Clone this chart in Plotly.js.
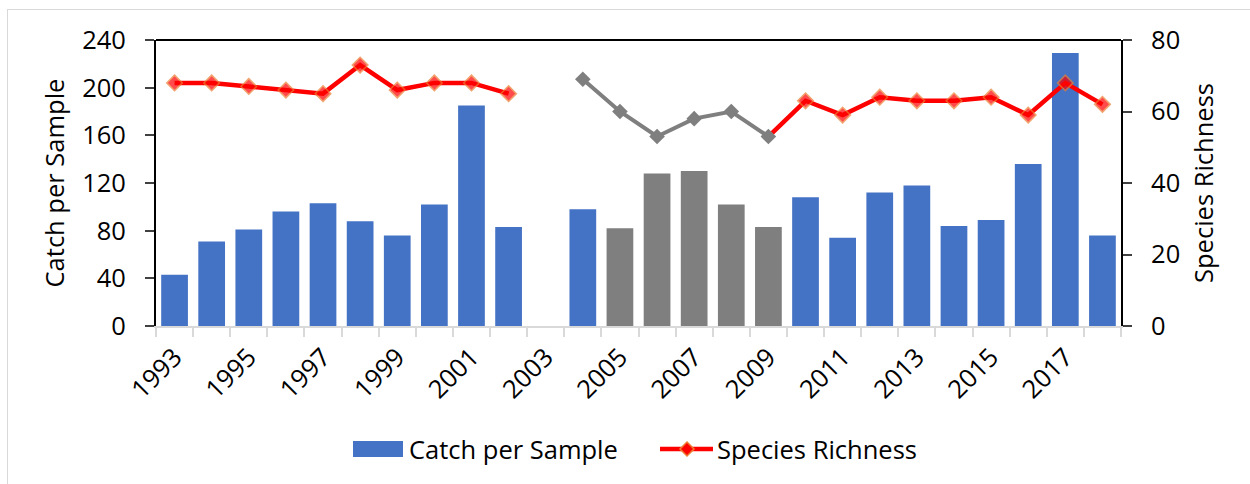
<!DOCTYPE html>
<html>
<head>
<meta charset="utf-8">
<script src="https://cdn.plot.ly/plotly-3.0.1.min.js"></script>
<style>
  body { margin: 0; background: #fff; }
  #frame { position: absolute; left: 7px; top: 9px; width: 1260px; height: 500px; border: 1.5px solid #D9D9D9; }
  #chart { position: absolute; left: 0; top: 0; width: 1250px; height: 484px; }
</style>
</head>
<body>
<div id="frame"></div>
<div id="chart"></div>
<script>
const years = [1993, 1994, 1995, 1996, 1997, 1998, 1999, 2000, 2001, 2002, 2003, 2004, 2005,
               2006, 2007, 2008, 2009, 2010, 2011, 2012, 2013, 2014, 2015, 2016, 2017, 2018];
const catchPerSample = [43, 71, 81, 96, 103, 88, 76, 102, 185, 83, null, 98, 82,
                        128, 130, 102, 83, 108, 74, 112, 118, 84, 89, 136, 229, 76];
const speciesRichness = [68, 68, 67, 66, 65, 73, 66, 68, 68, 65, null, 69, 60,
                         53, 58, 60, 53, 63, 59, 64, 63, 63, 64, 59, 68, 62];
// years drawn in gray (different sampling period)
const grayBarYears = [2005, 2006, 2007, 2008, 2009];
const grayLineYears = [2004, 2005, 2006, 2007, 2008, 2009];
const labelYears = [1993, 1995, 1997, 1999, 2001, 2003, 2005, 2007, 2009, 2011, 2013, 2015, 2017];

const blue = '#4472C4', gray = '#7F7F7F', red = '#FF0000', orange = '#ED7D31';
const font = "'Open Sans', sans-serif";
const fs = 25.5;

// plot area in pixels, used to place the hand drawn legend
const plotL = 156, plotR = 1121, plotT = 40, plotB = 326;
const px = (x) => (x - plotL) / (plotR - plotL);
const py = (y) => (plotB - y) / (plotB - plotT);

const lastGray = grayLineYears[grayLineYears.length - 1];
const redY = years.map((yr, i) =>
    (grayLineYears.includes(yr) && yr !== lastGray) ? null : speciesRichness[i]);
const redSize = years.map((yr) => yr === lastGray ? 0 : 12);
const grayY = years.map((yr, i) => grayLineYears.includes(yr) ? speciesRichness[i] : null);
const barColors = years.map((yr) => grayBarYears.includes(yr) ? gray : blue);

const data = [
    {
        x: years,
        y: catchPerSample,
        type: 'bar',
        name: 'Catch per Sample',
        marker: { color: barColors },
    },
    {
        x: years,
        y: redY,
        type: 'scatter',
        mode: 'lines+markers',
        name: 'Species Richness',
        yaxis: 'y2',
        line: { color: red, width: 4.5 },
        marker: { symbol: 'diamond', size: redSize, color: red, line: { color: orange, width: 1.5 } },
        connectgaps: false,
    },
    {
        x: years,
        y: grayY,
        type: 'scatter',
        mode: 'lines+markers',
        name: 'Species Richness (alt)',
        yaxis: 'y2',
        line: { color: gray, width: 4 },
        marker: { symbol: 'diamond', size: 12, color: gray },
        connectgaps: false,
    },
];

const layout = {
    width: 1250,
    height: 484,
    margin: { l: plotL, r: 1250 - plotR, t: plotT, b: 484 - plotB },
    paper_bgcolor: 'rgba(0,0,0,0)',
    plot_bgcolor: 'rgba(0,0,0,0)',
    font: { family: font, size: fs, color: '#000' },
    showlegend: false,
    bargap: 0.28,
    xaxis: {
        range: [1992.5, 2018.5],
        tickvals: labelYears,
        ticktext: labelYears.map(String),
        tickangle: -45,
        ticks: '',
        showgrid: false,
        zeroline: false,
        showline: true,
        linecolor: '#D9D9D9',
        linewidth: 2,
        ticklabelstandoff: 4,
        minor: { tick0: 1992.5, dtick: 1, ticks: 'outside', ticklen: 9, tickcolor: '#D9D9D9', tickwidth: 2, showgrid: false },
    },
    yaxis: {
        range: [0, 240],
        dtick: 40,
        showgrid: false,
        zeroline: false,
        showline: true,
        linecolor: '#000',
        linewidth: 2,
        ticks: 'outside',
        ticklen: 9,
        tickwidth: 2,
        tickcolor: '#404040',
        ticklabelstandoff: 14,
        title: { text: 'Catch per Sample', standoff: 10, font: { size: fs } },
    },
    yaxis2: {
        range: [0, 80],
        dtick: 20,
        overlaying: 'y',
        side: 'right',
        showgrid: false,
        zeroline: false,
        showline: true,
        linecolor: '#000',
        linewidth: 2,
        ticks: 'outside',
        ticklen: 9,
        tickwidth: 2,
        tickcolor: '#404040',
        ticklabelstandoff: 14,
        title: { text: 'Species Richness', standoff: 16, font: { size: fs } },
    },
    shapes: [
        // top border of the plot area
        { type: 'line', xref: 'paper', yref: 'paper', x0: 0, x1: 1, y0: 1, y1: 1, line: { color: '#000', width: 2 } },
        // legend symbols
        { type: 'rect', xref: 'paper', yref: 'paper', x0: px(353), x1: px(403), y0: py(457), y1: py(441),
          fillcolor: blue, line: { width: 0 } },
        { type: 'line', xref: 'paper', yref: 'paper', x0: px(660), x1: px(713), y0: py(449), y1: py(449),
          line: { color: red, width: 4.5 } },
        { type: 'path', xref: 'paper', yref: 'paper', xsizemode: 'pixel', ysizemode: 'pixel',
          xanchor: px(687), yanchor: py(449), path: 'M0,7L7,0L0,-7L-7,0Z',
          fillcolor: red, line: { color: orange, width: 1.5 } },
    ],
    annotations: [
        { text: 'Catch per Sample', xref: 'paper', yref: 'paper', x: px(407), y: py(449),
          xanchor: 'left', yanchor: 'middle', showarrow: false, font: { size: fs } },
        { text: 'Species Richness', xref: 'paper', yref: 'paper', x: px(715), y: py(449),
          xanchor: 'left', yanchor: 'middle', showarrow: false, font: { size: fs } },
    ],
};

Plotly.newPlot('chart', data, layout, { displayModeBar: false, staticPlot: true });
</script>
</body>
</html>
